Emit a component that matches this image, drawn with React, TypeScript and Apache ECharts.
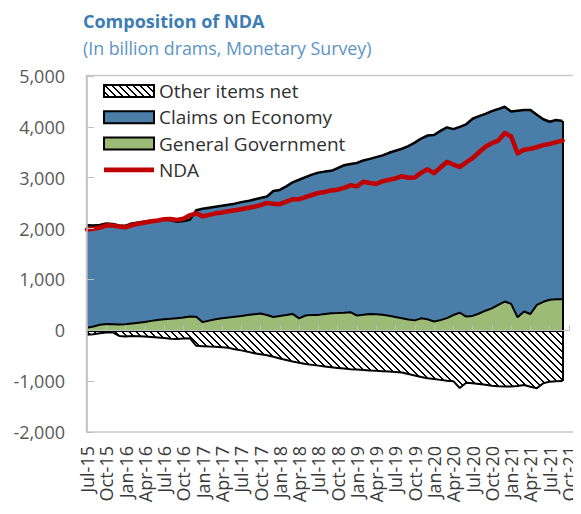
import { useEffect, useRef } from "react";
import * as echarts from "echarts";

// Monthly axis, Jul-15 .. Oct-21 (data runs through Sep-21)
const MONTH_ABBR = ["Jan", "Feb", "Mar", "Apr", "May", "Jun", "Jul", "Aug", "Sep", "Oct", "Nov", "Dec"];
const FIRST = { year: 2015, month: 6 };
const LAST = { year: 2021, month: 9 };
const MONTHS: string[] = [];
for (let y = FIRST.year, m = FIRST.month; y < LAST.year || (y === LAST.year && m <= LAST.month); ) {
  MONTHS.push(`${MONTH_ABBR[m]}-${String(y % 100).padStart(2, "0")}`);
  m += 1;
  if (m === 12) { m = 0; y += 1; }
}

// General Government (bottom of the positive stack), billion drams
const GENERAL_GOVERNMENT = [
  50, 75, 110, 125, 120, 115, 120, 135, 150, 165, 185, 200, 215, 225, 238, 250,
  270, 265, 160, 190, 215, 238, 250, 265, 280, 300, 315, 330, 300, 260, 280, 300,
  322, 235, 290, 303, 303, 320, 336, 340, 345, 356, 290, 305, 322, 315, 305, 285,
  260, 235, 210, 195, 235, 215, 172, 200, 240, 300, 345, 270, 283, 330, 385, 430,
  500, 565, 520, 255, 370, 320, 500, 560, 600, 608, 612,
];

// Claims on Economy (stacked above General Government)
const CLAIMS_ON_ECONOMY = [
  2015, 1985, 1960, 1975, 1970, 1945, 1935, 1965, 1970, 1975, 1970, 1965, 1965, 1945, 1897, 1900,
  1905, 2095, 2230, 2220, 2215, 2212, 2220, 2225, 2240, 2240, 2255, 2270, 2330, 2480, 2480, 2530,
  2588, 2725, 2720, 2757, 2797, 2800, 2799, 2850, 2900, 2914, 3000, 3035, 3048, 3090, 3135, 3205,
  3270, 3335, 3410, 3495, 3535, 3615, 3668, 3720, 3750, 3655, 3655, 3780, 3877, 3880, 3870, 3880,
  3850, 3830, 3780, 4060, 3960, 4010, 3740, 3590, 3500, 3527, 3503,
];

// Other items net (negative side)
const OTHER_ITEMS_NET = [
  -90, -80, -60, -45, -40, -110, -120, -112, -115, -122, -130, -140, -150, -165, -170, -160,
  -156, -305, -312, -320, -325, -332, -345, -375, -395, -420, -450, -470, -490, -520, -555, -585,
  -615, -640, -665, -680, -695, -710, -728, -740, -752, -765, -770, -780, -790, -798, -805, -812,
  -820, -830, -860, -890, -920, -942, -960, -975, -990, -1000, -1135, -1030, -1040, -1055, -1070, -1090,
  -1100, -1105, -1107, -1095, -1075, -1110, -1138, -1040, -1010, -1000, -995,
];

// Net domestic assets
const NDA = [
  1980, 1995, 2020, 2065, 2060, 2040, 2025, 2070, 2095, 2120, 2145, 2160, 2185, 2190, 2170, 2195,
  2260, 2300, 2240, 2270, 2300, 2315, 2340, 2360, 2380, 2405, 2430, 2460, 2505, 2490, 2480, 2530,
  2575, 2578, 2620, 2660, 2700, 2720, 2750, 2765, 2800, 2850, 2830, 2920, 2895, 2880, 2930, 2960,
  2985, 3030, 3000, 3005, 3100, 3165, 3090, 3200, 3310, 3260, 3210, 3300, 3385, 3500, 3610, 3680,
  3730, 3880, 3810, 3480, 3550, 3570, 3600, 3640, 3665, 3700, 3730,
];

const Y_MIN = -2000;
const Y_MAX = 5000;
const Y_STEP = 1000;

const FONT = "'Open Sans', 'Noto Sans', sans-serif";
const BLUE = "#4A7EA8";
const GREEN = "#9BBB76";
const RED = "#C00000";
const FRAME = "#C9C9C9";

// Legend swatch for the NDA line: a thin bar centred in a 50x12 box
const LINE_SWATCH = "path://M0,0L1,0L0,0Z M0,3.7H50V8.3H0Z M0,12L1,12L0,12Z";

function hatchTile(): HTMLCanvasElement {
  const size = 7;
  const c = document.createElement("canvas");
  c.width = size;
  c.height = size;
  const ctx = c.getContext("2d")!;
  ctx.fillStyle = "#ffffff";
  ctx.fillRect(0, 0, size, size);
  ctx.fillStyle = "#000000";
  for (let y = 0; y < size; y++) {
    for (let x = 0; x < size; x++) {
      if ((((x - y) % size) + size) % size < 2) ctx.fillRect(x, y, 1, 1);
    }
  }
  return c;
}

export default function App() {
  const ref = useRef<HTMLDivElement>(null);

  useEffect(() => {
    if (!ref.current) return;
    const chart = echarts.init(ref.current, undefined, { renderer: "svg" });
    const hatch: any = { image: hatchTile(), repeat: "repeat", imageWidth: 7, imageHeight: 7 };
    const last = GENERAL_GOVERNMENT.length - 1;
    const lastMonth = MONTHS[last];

    chart.setOption({
      animation: false,
      backgroundColor: "#ffffff",
      textStyle: { fontFamily: FONT },
      title: [
        {
          text: "Composition of NDA",
          left: 83,
          top: 12,
          padding: 0,
          textStyle: { fontSize: 18, fontWeight: "bold", color: "#3D7DB4", fontFamily: FONT },
        },
        {
          text: "(In billion drams, Monetary Survey)",
          left: 83,
          top: 39,
          padding: 0,
          textStyle: { fontSize: 17.8, fontWeight: "normal", color: "#5B94C6", fontFamily: FONT },
        },
      ],
      legend: {
        orient: "vertical",
        left: 103,
        top: 81,
        padding: 0,
        itemWidth: 50,
        itemHeight: 12,
        itemGap: 6.3,
        selectedMode: false,
        textStyle: { fontSize: 19, color: "#303030", fontFamily: FONT, lineHeight: 20 },
        data: [
          { name: "Other items net", icon: "rect", itemStyle: { color: hatch, borderColor: "#000", borderWidth: 2 } },
          { name: "Claims on Economy", icon: "rect", itemStyle: { color: BLUE, borderColor: "#000", borderWidth: 2 } },
          { name: "General Government", icon: "rect", itemStyle: { color: GREEN, borderColor: "#000", borderWidth: 2 } },
          { name: "NDA", icon: LINE_SWATCH, itemStyle: { color: RED, borderWidth: 0 } },
        ],
      },
      grid: { left: 87, right: 12, top: 76, bottom: 82, containLabel: false },
      graphic: [
        {
          type: "rect",
          z: -1,
          silent: true,
          shape: { x: 86.5, y: 75.5, width: 488, height: 356.5 },
          style: { fill: "none", stroke: FRAME, lineWidth: 1.5 },
        },
      ],
      xAxis: [
        {
          type: "category",
          data: MONTHS,
          boundaryGap: false,
          position: "bottom",
          axisLine: { show: false, onZero: false },
          axisTick: { show: false },
          axisLabel: {
            interval: 2,
            rotate: 90,
            margin: 14,
            fontSize: 18,
            color: "#3A3A3A",
            fontFamily: FONT,
          },
          splitLine: { show: false },
        },
        {
          type: "category",
          data: MONTHS,
          boundaryGap: false,
          position: "bottom",
          z: 10,
          axisLine: { show: true, onZero: true, lineStyle: { color: "#BFBFBF", width: 1 } },
          axisTick: { show: true, inside: true, interval: 2, length: 5, lineStyle: { color: "#BFBFBF" } },
          axisLabel: { show: false },
          splitLine: { show: false },
        },
      ],
      yAxis: {
        type: "value",
        min: Y_MIN,
        max: Y_MAX,
        interval: Y_STEP,
        z: 10,
        axisLine: { show: true, lineStyle: { color: "#BFBFBF", width: 1.5 } },
        axisTick: { show: true, inside: true, length: 7, lineStyle: { color: "#BFBFBF" } },
        axisLabel: {
          margin: 22,
          fontSize: 18,
          color: "#595959",
          fontFamily: FONT,
          formatter: (v: number) => v.toLocaleString("en-US"),
        },
        splitLine: { show: false },
      },
      series: [
        {
          name: "General Government",
          type: "line",
          stack: "positive",
          data: GENERAL_GOVERNMENT,
          symbol: "none",
          z: 3,
          itemStyle: { color: GREEN },
          lineStyle: { color: "#000", width: 2 },
          areaStyle: { color: GREEN, opacity: 1 },
          markLine: {
            silent: true,
            symbol: "none",
            label: { show: false },
            lineStyle: { color: "#000", width: 2, type: "solid" },
            data: [
              [
                { coord: [MONTHS[0], 0] },
                { coord: [lastMonth, 0] },
              ],
              [
                { coord: [lastMonth, OTHER_ITEMS_NET[last]] },
                { coord: [lastMonth, GENERAL_GOVERNMENT[last] + CLAIMS_ON_ECONOMY[last]] },
              ],
            ],
          },
        },
        {
          name: "Claims on Economy",
          type: "line",
          stack: "positive",
          data: CLAIMS_ON_ECONOMY,
          symbol: "none",
          z: 2,
          itemStyle: { color: BLUE },
          lineStyle: { color: "#000", width: 2.5 },
          areaStyle: { color: BLUE, opacity: 1 },
        },
        {
          name: "Other items net",
          type: "line",
          data: OTHER_ITEMS_NET,
          symbol: "none",
          z: 2,
          itemStyle: { color: "#000" },
          lineStyle: { color: "#000", width: 2 },
          areaStyle: { color: hatch, opacity: 1 },
        },
        {
          name: "NDA",
          type: "line",
          data: NDA,
          symbol: "none",
          z: 5,
          itemStyle: { color: RED },
          lineStyle: { color: RED, width: 4.5, join: "round", cap: "round" },
        },
      ],
    });

    return () => chart.dispose();
  }, []);

  return <div ref={ref} style={{ width: 581, height: 514, margin: -8 }} />;
}
